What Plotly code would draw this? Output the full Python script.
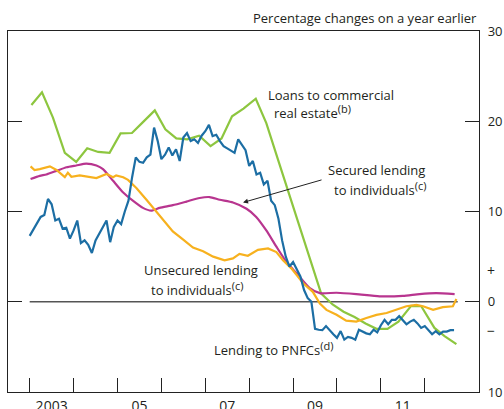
import plotly.graph_objects as go

# Lending to PNFCs (monthly, Jan 2003 - Sep 2012)
pnfc_start = 2003.0
pnfc = [7.3, 8.0, 8.8, 9.4, 9.6, 11.4, 10.8, 9.0, 9.2, 8.1, 8.2, 7.0,
        7.9, 9.0, 6.5, 6.8, 6.3, 5.4, 6.8, 7.5, 8.3, 9.0, 6.6, 8.3,
        9.0, 8.6, 10.0, 11.2, 13.8, 16.0, 15.5, 15.4, 16.0, 16.3, 19.3, 17.8,
        15.8, 16.3, 17.1, 16.2, 16.9, 15.6, 18.2, 18.7, 17.8, 18.0, 17.6, 18.4,
        18.9, 19.6, 18.35, 18.5, 17.8, 17.25, 17.0, 16.7, 16.5, 18.0, 17.4, 16.8,
        15.05, 15.6, 14.1, 14.3, 13.0, 13.4, 11.2, 10.7, 9.2, 6.8, 5.0, 3.9,
        4.4, 3.5, 2.8, 1.3, 0.4, 0.0, -3.0, -3.1, -3.15, -2.7, -3.2, -3.6,
        -4.0, -3.25, -4.2, -3.9, -4.0, -4.2, -3.1, -3.3, -3.5, -3.6, -3.1, -3.4,
        -2.6, -2.0, -2.5, -2.0, -2.0, -1.6, -2.1, -2.5, -2.2, -2.0, -2.4, -2.9,
        -2.7, -3.2, -3.6, -3.25, -3.6, -3.3, -3.3, -3.15, -3.15]
pnfc_x = [pnfc_start + i / 12 for i in range(len(pnfc))]

# Loans to commercial real estate (quarterly)
cre_x = [2003.04, 2003.28, 2003.53, 2003.80, 2004.06, 2004.31, 2004.56, 2004.82,
         2005.07, 2005.33, 2005.58, 2005.85, 2006.09, 2006.34, 2006.59, 2006.86,
         2007.12, 2007.37, 2007.61, 2007.87, 2008.15, 2008.39, 2008.64, 2008.90,
         2009.15, 2009.40, 2009.64, 2009.90, 2010.15, 2010.40, 2010.65, 2010.90,
         2011.15, 2011.40, 2011.69, 2011.92, 2012.22, 2012.45, 2012.72]
cre = [21.8, 23.2, 20.4, 16.5, 15.5, 17.0, 16.6, 16.5,
       18.65, 18.7, 19.9, 21.2, 19.1, 18.1, 18.0, 18.4,
       17.25, 18.1, 20.55, 21.4, 22.5, 19.8, 16.0, 12.1,
       8.1, 4.4, 0.9, -0.3, -1.1, -1.7, -2.4, -3.0,
       -3.0, -2.2, -0.45, -0.5, -2.9, -3.8, -4.7]

# Secured lending to individuals
sec_x = [2003.02, 2003.23, 2003.38, 2003.61, 2003.84, 2004.06, 2004.29, 2004.52,
         2004.67, 2004.90, 2005.13, 2005.35, 2005.58, 2005.77, 2005.96, 2006.26,
         2006.57, 2006.87, 2007.10, 2007.33, 2007.63, 2007.94, 2008.16, 2008.39,
         2008.62, 2008.85, 2009.08, 2009.38, 2009.61, 2009.99, 2010.44, 2010.97,
         2011.50, 2011.88, 2012.26, 2012.68]
sec = [13.6, 13.95, 14.1, 14.5, 14.9, 15.1, 15.3, 15.1,
       14.7, 13.4, 12.1, 11.2, 10.4, 10.1, 10.4, 10.7,
       11.1, 11.5, 11.6, 11.3, 11.0, 10.3, 9.4, 7.9,
       6.1, 4.4, 3.15, 1.5, 0.95, 1.0, 0.85, 0.6,
       0.65, 0.85, 0.95, 0.85]

# Unsecured lending to individuals
uns_x = [2003.02, 2003.11, 2003.23, 2003.46, 2003.61, 2003.80, 2003.87, 2003.95,
         2004.14, 2004.33, 2004.52, 2004.75, 2004.90, 2004.97, 2005.13, 2005.24,
         2005.43, 2005.66, 2005.89, 2006.11, 2006.26, 2006.49, 2006.72, 2006.95,
         2007.18, 2007.44, 2007.63, 2007.78, 2007.97, 2008.20, 2008.43, 2008.62,
         2008.77, 2008.96, 2009.23, 2009.45, 2009.61, 2009.76, 2009.99, 2010.21,
         2010.44, 2010.67, 2010.90, 2011.13, 2011.35, 2011.58, 2011.81, 2011.96,
         2012.19, 2012.41, 2012.64, 2012.72]
uns = [15.0, 14.6, 14.7, 15.0, 14.6, 13.8, 14.3, 13.85,
       14.0, 13.85, 13.7, 14.15, 13.8, 14.0, 13.8, 13.5,
       12.6, 11.3, 10.0, 8.7, 7.8, 6.9, 6.0, 5.6,
       5.0, 4.6, 4.8, 5.3, 5.1, 5.75, 5.9, 5.5,
       4.6, 3.7, 2.05, 1.1, -0.2, -0.9, -1.45, -2.1,
       -2.2, -1.8, -1.45, -1.25, -0.9, -0.5, -0.35, -0.5,
       -0.9, -0.6, -0.5, 0.3]

year_ticks = list(range(2003, 2013))
label_pos = [2003.5, 2005.5, 2007.5, 2009.5, 2011.5]
label_text = ["2003", "05", "07", "09", "11"]
y_ticks = [30, 20, 10, 0, -10]
y_text = ["30", "20", "10", "0", "10"]

GREEN = "#8DC63F"
BLUE = "#1C6EA4"
MAGENTA = "#B8358F"
YELLOW = "#F7B11E"
TXT = "#231F20"
FONT = "Open Sans"

x_range = [2002.506, 2013.235]

fig = go.Figure()

# zero line across the data span
fig.add_trace(go.Scatter(x=[2003.0, 2012.75], y=[0, 0], mode="lines",
                         line=dict(color="#555555", width=1.5),
                         hoverinfo="skip", showlegend=False))

fig.add_trace(go.Scatter(x=cre_x, y=cre, mode="lines",
                         line=dict(color=GREEN, width=2.2), showlegend=False))
fig.add_trace(go.Scatter(x=sec_x, y=sec, mode="lines",
                         line=dict(color=MAGENTA, width=2.2, shape="spline", smoothing=0.6),
                         showlegend=False))
fig.add_trace(go.Scatter(x=uns_x, y=uns, mode="lines",
                         line=dict(color=YELLOW, width=2.2), showlegend=False))
fig.add_trace(go.Scatter(x=pnfc_x, y=pnfc, mode="lines",
                         line=dict(color=BLUE, width=2.2), showlegend=False))

# invisible trace so the label axes get drawn
fig.add_trace(go.Scatter(x=[2003.5], y=[0], xaxis="x2", yaxis="y2", mode="markers",
                         marker=dict(opacity=0), hoverinfo="skip", showlegend=False))

fig.update_layout(
    width=504, height=409,
    margin=dict(l=8, r=25, t=31, b=17, autoexpand=False),
    paper_bgcolor="white", plot_bgcolor="white",
    font=dict(family=FONT, size=13, color=TXT),
    xaxis=dict(range=x_range, tickvals=year_ticks, showticklabels=False,
               ticks="inside", ticklen=14, tickcolor="#222222", tickwidth=1,
               showline=True, linecolor="#222222", linewidth=1.2, mirror=True,
               showgrid=False, zeroline=False, automargin=False),
    xaxis2=dict(range=x_range, overlaying="x", anchor="y", side="bottom",
                tickvals=label_pos, ticktext=label_text, ticks="",
                showline=False, showgrid=False, zeroline=False, ticklabelstandoff=4,
                ticklabeloverflow="allow", automargin=False,
                tickfont=dict(size=14, color=TXT)),
    yaxis=dict(range=[-10, 30], side="right", tickvals=y_ticks, ticktext=y_text,
               ticks="inside", ticklen=14, tickcolor="#222222", tickwidth=1,
               showline=True, linecolor="#222222", linewidth=1.2, mirror="ticks",
               showgrid=False, zeroline=False, ticklabelstandoff=5,
               ticklabeloverflow="allow", automargin=False,
               tickfont=dict(size=13, color=TXT)),
    yaxis2=dict(range=[-10, 30], overlaying="y", side="right", anchor="x",
                tickvals=[3.4, -3.2], ticktext=["+", "\u2212"], ticks="",
                showline=False, showgrid=False, zeroline=False, ticklabelstandoff=7,
                ticklabeloverflow="allow", automargin=False,
                tickfont=dict(size=14, color=TXT)),
)

SUP = "<sup><span style='font-size:11px'>%s</span></sup>"
notes = [
    ("Percentage changes on a year earlier", 479, 18, "right"),
    ("Loans to commercial", 266, 95, "left"),
    ("real estate" + SUP % "(b)", 272, 112, "left"),
    ("Secured lending", 326, 170, "left"),
    ("to individuals" + SUP % "(c)", 332, 188, "left"),
    ("Unsecured lending", 142, 270, "left"),
    ("to individuals" + SUP % "(c)", 149, 288, "left"),
    ("Lending to PNFCs" + SUP % "(d)", 212, 348, "left"),
]
for text, px, py, align in notes:
    fig.add_annotation(text=text, xref="paper", yref="paper",
                       x=(px - 8) / (504 - 8 - 25), y=1 - (py - 31) / (409 - 31 - 17),
                       xanchor=align, yanchor="middle", showarrow=False,
                       font=dict(size=13, color=TXT))

# arrow pointing at the secured lending line
fig.add_annotation(x=2007.86, y=11.0, ax=80, ay=-23, xref="x", yref="y",
                   showarrow=True, arrowhead=2, arrowsize=1, arrowwidth=1,
                   arrowcolor="#222222", text="")

# page body has a default margin; remove it so the figure sits at the corner
fig.write_html("out.html", config={"displayModeBar": False},
               post_script="document.body.style.margin='0';")
